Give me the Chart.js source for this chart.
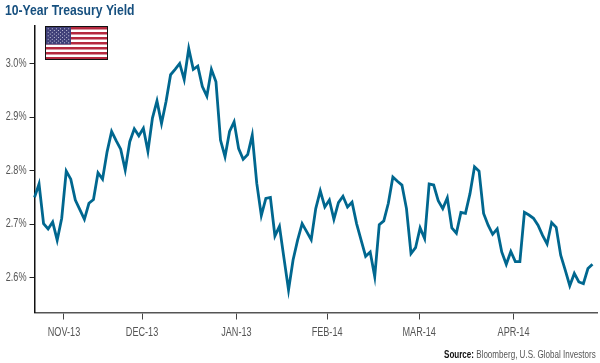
<!DOCTYPE html>
<html><head><meta charset="utf-8">
<script src="https://cdn.jsdelivr.net/npm/chart.js@4"></script>
<style>
html,body{margin:0;padding:0;background:#fff;}
#wrap{position:relative;width:600px;height:363px;overflow:hidden;}
canvas{position:absolute;left:0;top:0;}
#flag{position:absolute;left:45px;top:26px;width:63px;height:34px;}
#src{position:absolute;right:4px;top:348px;font:11.5px "Liberation Sans",sans-serif;color:#555;white-space:nowrap;line-height:13px;transform:scaleX(.70);transform-origin:right center;}
#src b{color:#111;}
</style></head><body>
<div id="wrap">
<canvas id="c" width="600" height="363"></canvas>
<svg id="flag" viewBox="0 0 63 34" xmlns="http://www.w3.org/2000/svg">
<rect width="63" height="34" fill="#fff"/>
<g fill="#b5293f">
<rect y="1" width="63" height="2.5"/><rect y="6" width="63" height="2.5"/><rect y="11" width="63" height="2.5"/><rect y="16" width="63" height="2.5"/><rect y="21" width="63" height="2.5"/><rect y="26" width="63" height="2.5"/><rect y="31" width="63" height="2"/>
</g>
<rect x="1" y="1" width="25" height="17.5" fill="#3f3f78"/>
<g fill="#d8d8e8" id="stars"></g>
<rect x=".5" y=".5" width="62" height="33" fill="none" stroke="#111" stroke-width="1"/>
</svg>
<div id="src"><b>Source:</b> Bloomberg, U.S. Global Investors</div>
</div>
<script>
const chartTitle = "10-Year Treasury Yield";
const yTicks = [2.6, 2.7, 2.8, 2.9, 3.0];
const monthLabels = ["NOV-13", "DEC-13", "JAN-13", "FEB-14", "MAR-14", "APR-14"];
const monthPositions = [6.5, 23.7, 44.5, 64.5, 84.8, 105.6];
const yields = [
2.750,2.775,2.701,2.691,2.704,2.670,2.711,2.799,2.784,2.745,
2.727,2.709,2.739,2.746,2.796,2.784,2.835,2.873,2.856,2.840,
2.801,2.854,2.878,2.865,2.879,2.836,2.898,2.930,2.888,2.929,
2.979,2.989,3.000,2.970,3.028,2.989,2.995,2.957,2.939,2.989,
2.966,2.857,2.826,2.873,2.891,2.841,2.821,2.830,2.866,2.776,
2.716,2.748,2.750,2.678,2.696,2.636,2.577,2.633,2.670,2.701,
2.686,2.671,2.729,2.762,2.732,2.745,2.709,2.740,2.752,2.732,
2.741,2.701,2.670,2.640,2.648,2.602,2.699,2.706,2.739,2.788,
2.780,2.773,2.729,2.645,2.656,2.693,2.673,2.775,2.773,2.744,
2.729,2.749,2.693,2.683,2.722,2.720,2.757,2.807,2.799,2.720,
2.698,2.681,2.691,2.648,2.625,2.649,2.630,2.630,2.722,2.717,
2.711,2.698,2.679,2.663,2.703,2.694,2.642,2.614,2.585,2.608,
2.592,2.589,2.617,2.625];

const FAMILY = '"Liberation Sans",sans-serif';
const stars = document.getElementById('stars');
let s = '';
for (let r = 0; r < 9; r++) {
  for (let k = 0; k < (r % 2 ? 5 : 6); k++) {
    s += '<circle cx="' + (3.2 + k * 4.1 + (r % 2 ? 2.05 : 0)) + '" cy="' + (2.8 + r * 1.75) + '" r=".55"/>';
  }
}
stars.innerHTML = s;

/* The reference uses a condensed face; none is installed, so squeeze text horizontally. */
const canvas = document.getElementById('c');
const ctx = canvas.getContext('2d');
const nativeFillText = ctx.fillText.bind(ctx);
ctx.fillText = function (t, x, y) {
  const squeeze = /bold/.test(ctx.font) ? 0.87 : 0.76;
  nativeFillText(t, x, y, ctx.measureText(t).width * squeeze);
};

new Chart(canvas, {
  type: 'line',
  data: { datasets: [{
    data: yields.map((v, i) => ({ x: i, y: v })),
    borderColor: '#00678f', borderWidth: 2.8, pointRadius: 0,
    tension: 0, fill: false, borderJoinStyle: 'miter', clip: false
  }]},
  options: {
    responsive: false, animation: false, devicePixelRatio: 1,
    layout: { padding: { left: 5, right: 3, top: 0, bottom: 0 } },
    plugins: {
      legend: { display: false }, tooltip: { enabled: false },
      title: { display: true, text: chartTitle, align: 'start', color: '#17507f',
        font: { family: FAMILY, size: 14, weight: 'bold', lineHeight: 1.2 },
        padding: { top: 3, bottom: 6.2 } }
    },
    scales: {
      x: { type: 'linear', min: 0, max: 124,
        afterBuildTicks: a => { a.ticks = monthPositions.map(v => ({ value: v })); },
        afterFit: a => { a.height = 50.5; },
        border: { color: '#555', width: 1.5 },
        grid: { drawOnChartArea: false, drawTicks: true, tickLength: 7, tickColor: '#444', tickWidth: 1 },
        ticks: { autoSkip: false, maxRotation: 0, minRotation: 0, padding: 6, color: '#555',
          font: { family: FAMILY, size: 12 },
          callback: (v) => monthLabels[monthPositions.indexOf(v)] }
      },
      y: { min: 2.535, max: 3.07,
        afterBuildTicks: a => { a.ticks = yTicks.map(v => ({ value: v })); },
        afterFit: a => { a.width = 29.5; },
        border: { color: '#111', width: 1.5 },
        grid: { drawOnChartArea: false, drawTicks: true, tickLength: 5, tickColor: '#222', tickWidth: 1 },
        ticks: { padding: 3, color: '#555', font: { family: FAMILY, size: 12 },
          callback: v => v.toFixed(1) + '%' }
      }
    }
  }
});
</script>
</body></html>
